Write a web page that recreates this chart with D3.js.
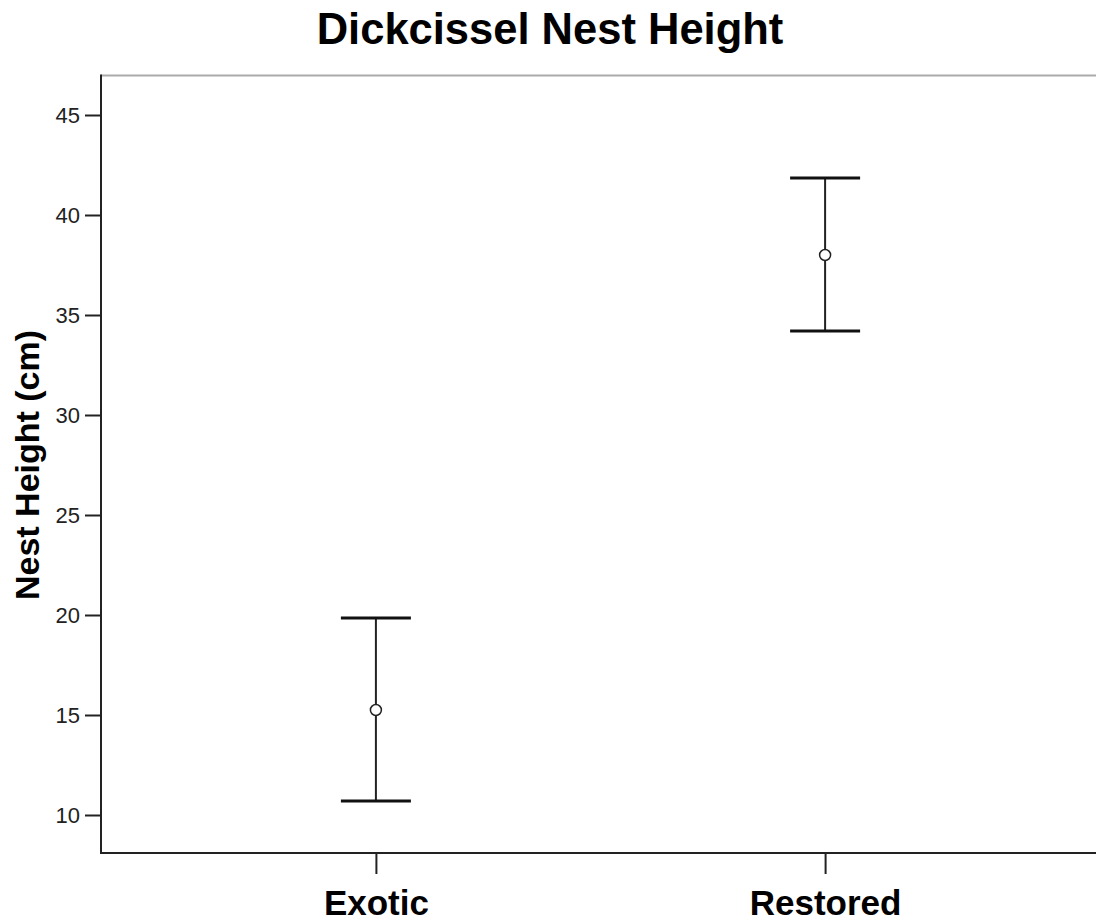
<!DOCTYPE html>
<html>
<head>
<meta charset="utf-8">
<script src="https://cdn.jsdelivr.net/npm/d3@7"></script>
<style>
  html, body { margin: 0; padding: 0; background: #fff; }
  svg { display: block; }
</style>
</head>
<body>
<svg id="chart" width="1096" height="924"></svg>
<script>
const categories = ["Exotic", "Restored"];
const means = [15.25, 38.0];
const lower = [10.7, 34.2];
const upper = [19.85, 41.85];
const yTicks = [10, 15, 20, 25, 30, 35, 40, 45];
const title = "Dickcissel Nest Height";
const yLabel = "Nest Height (cm)";

const svg = d3.select("#chart");
const pLeft = 101, pRight = 1100, pTop = 76, pBottom = 853;

const y = d3.scaleLinear().domain([8.1, 46.95]).range([pBottom, pTop]);
const x = d3.scalePoint().domain(categories).range([pLeft, pRight]).padding(0.612);

const data = categories.map((c, i) => ({ c, m: means[i], lo: lower[i], hi: upper[i] }));

// frame top (gray)
svg.append("line").attr("x1", pLeft).attr("x2", 1096).attr("y1", pTop - 0.5).attr("y2", pTop - 0.5)
  .attr("stroke", "#aaaaaa").attr("stroke-width", 2);

// Y axis
const yAxis = svg.append("g").attr("transform", `translate(${pLeft},0)`)
  .call(d3.axisLeft(y).tickValues(yTicks).tickSize(16).tickPadding(5).tickSizeOuter(0));
yAxis.select(".domain").remove();
yAxis.selectAll(".tick line").attr("stroke", "#222").attr("stroke-width", 2);
yAxis.selectAll(".tick text").attr("font-family", "Liberation Sans, Arial, sans-serif")
  .attr("font-size", 22).attr("fill", "#222");
svg.append("line").attr("x1", pLeft).attr("x2", pLeft).attr("y1", pTop - 1.5).attr("y2", pBottom + 1)
  .attr("stroke", "#222").attr("stroke-width", 2);

// X axis
const xAxis = svg.append("g").attr("transform", `translate(0,${pBottom})`)
  .call(d3.axisBottom(x).tickSize(21).tickPadding(16).tickSizeOuter(0));
xAxis.select(".domain").remove();
xAxis.selectAll(".tick line").attr("stroke", "#222").attr("stroke-width", 2);
xAxis.selectAll(".tick text").attr("font-family", "Liberation Sans, Arial, sans-serif")
  .attr("font-size", 35).attr("font-weight", "bold").attr("fill", "#000");
svg.append("line").attr("x1", pLeft - 1).attr("x2", 1096).attr("y1", pBottom).attr("y2", pBottom)
  .attr("stroke", "#222").attr("stroke-width", 2);

// error bars
const g = svg.append("g");
const capHalf = 35;
g.selectAll(".stem").data(data).join("line")
  .attr("x1", d => x(d.c)).attr("x2", d => x(d.c))
  .attr("y1", d => y(d.hi)).attr("y2", d => y(d.lo))
  .attr("stroke", "#222").attr("stroke-width", 2);
g.selectAll(".capTop").data(data).join("line")
  .attr("x1", d => x(d.c) - capHalf).attr("x2", d => x(d.c) + capHalf)
  .attr("y1", d => y(d.hi)).attr("y2", d => y(d.hi))
  .attr("stroke", "#111").attr("stroke-width", 3);
g.selectAll(".capBot").data(data).join("line")
  .attr("x1", d => x(d.c) - capHalf).attr("x2", d => x(d.c) + capHalf)
  .attr("y1", d => y(d.lo)).attr("y2", d => y(d.lo))
  .attr("stroke", "#111").attr("stroke-width", 3);
g.selectAll("circle").data(data).join("circle")
  .attr("cx", d => x(d.c)).attr("cy", d => y(d.m)).attr("r", 5.5)
  .attr("fill", "#fff").attr("stroke", "#222").attr("stroke-width", 1.5);

// title
svg.append("text").attr("x", 550).attr("y", 44).attr("text-anchor", "middle")
  .attr("font-family", "Liberation Sans, Arial, sans-serif").attr("font-size", 43.5)
  .attr("font-weight", "bold").attr("fill", "#000").text(title);

// y label
svg.append("text").attr("transform", `translate(39,465) rotate(-90)`).attr("text-anchor", "middle")
  .attr("font-family", "Liberation Sans, Arial, sans-serif").attr("font-size", 34)
  .attr("font-weight", "bold").attr("fill", "#000").text(yLabel);
</script>
</body>
</html>
